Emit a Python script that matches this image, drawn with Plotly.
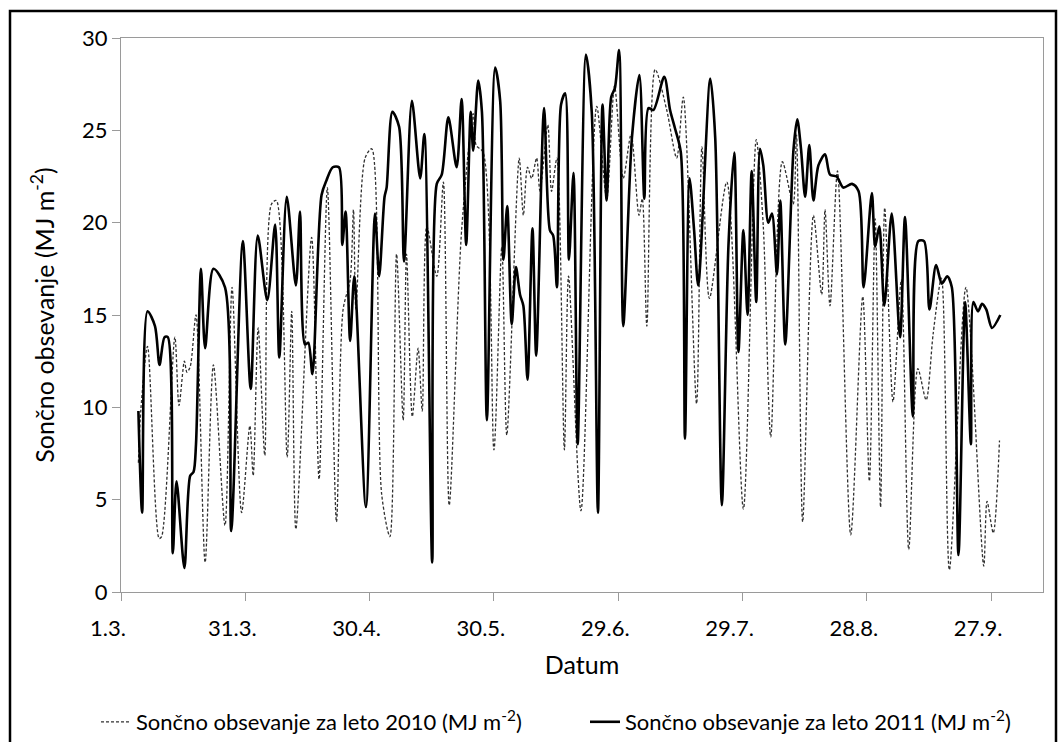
import plotly.graph_objects as go

# Day offsets from 1 March (0 = 1.3.) and daily solar irradiation values (MJ m-2)
days_2011 = [4.2, 5.1, 6.4, 8.2, 9.3, 10.5, 11.3, 12.5, 13.4, 15.3, 16.7, 17.5, 18.1, 19.3, 20.3,
             22.3, 25.1, 26.6, 29.4, 31.3, 33.0, 35.3, 37.2, 38.2, 40.0, 42.2, 43.2, 44.4, 45.2,
             46.2, 48.4, 49.6, 51.1, 52.6, 53.4, 54.2, 55.3, 56.3, 59.1, 61.3, 62.3, 63.6, 64.1,
             65.5, 67.1, 68.3, 70.2, 72.2, 73.2, 75.1, 76.2, 77.4, 79.0, 81.0, 82.2, 83.3, 84.4,
             85.0, 86.2, 87.1, 88.3, 90.3, 91.5, 92.3, 93.2, 94.3, 95.3, 96.3, 97.1, 98.1, 99.3,
             100.2, 102.1, 103.5, 104.3, 105.2, 106.2, 107.2, 108.1, 109.2, 110.2, 112.2, 113.6,
             115.1, 116.2, 117.2, 118.3, 119.2, 120.2, 121.2, 123.3, 125.1, 126.3, 127.3, 128.5,
             131.1, 132.5, 133.7, 135.1, 136.1, 137.2, 138.3, 139.3, 142.2, 143.4, 145.0, 146.6,
             148.0, 149.0, 150.2, 151.2, 152.2, 153.3, 154.2, 155.0, 156.2, 157.1, 158.3, 159.1,
             160.3, 162.3, 163.2, 164.1, 165.1, 166.1, 167.1, 168.3, 169.9, 171.1, 172.7, 174.3,
             176.4, 178.0, 179.2, 181.2, 182.0, 183.0, 184.2, 186.0, 188.0, 189.2, 191.1, 192.4,
             193.8, 195.1, 196.7, 198.1, 199.4, 200.5, 202.1, 203.7, 205.1, 205.7, 206.8, 207.8,
             208.8, 210.2, 212.2]
vals_2011 = [9.8, 4.3, 15.2, 14.4, 12.3, 13.8, 13.8, 2.1, 6.0, 1.3, 6.3, 6.5, 8.0, 17.5, 13.2,
             17.5, 16.5, 3.3, 19.0, 11.0, 19.3, 15.8, 19.9, 12.7, 21.4, 16.6, 20.6, 13.4, 13.5,
             11.8, 21.5, 22.3, 23.0, 23.0, 18.8, 20.6, 13.6, 17.1, 4.6, 20.5, 17.1, 21.4, 21.9,
             26.0, 25.2, 17.9, 26.6, 22.4, 24.8, 1.6, 22.1, 22.6, 25.7, 23.0, 26.7, 18.8, 26.0,
             23.9, 27.7, 26.0, 9.3, 28.4, 26.6, 18.0, 20.9, 14.5, 17.6, 16.1, 15.5, 11.5, 19.7,
             12.8, 26.2, 19.6, 19.3, 16.5, 26.4, 27.0, 18.0, 22.7, 8.0, 29.1, 26.0,
             4.3, 26.4, 21.2, 26.8, 27.3, 29.35, 14.4, 24.6, 28.0, 21.3, 26.2, 26.1,
             27.9, 26.1, 25.1, 23.8, 8.3, 22.4, 19.6, 16.6, 27.8, 24.6, 4.7, 18.8,
             23.8, 13.0, 19.6, 15.0, 22.8, 15.7, 24.0, 23.1, 20.0, 20.5, 17.2, 21.2,
             13.4, 24.0, 25.6, 24.0, 21.4, 24.2, 21.2, 23.1, 23.7, 22.6, 22.5, 21.9,
             22.1, 21.7, 16.5, 21.6, 18.7, 19.8, 15.5, 20.5, 13.8, 20.3, 9.5, 19.0,
             19.0, 15.3, 17.7, 16.7, 17.1, 16.5, 2.0, 15.7, 8.0, 15.7, 15.2, 15.6,
             15.3, 14.3, 15.0]

days_2010 = [4.2, 4.8, 6.4, 9.2, 9.8, 13.0, 14.0, 15.3, 15.9, 16.7, 18.1, 20.3, 22.3, 25.1,
             26.8, 29.1, 31.1, 31.9, 33.1, 34.7, 36.3, 37.5, 40.1, 41.2, 42.2, 46.0, 47.8,
             49.8, 52.0, 53.6, 55.3, 56.1, 56.7, 58.9, 60.5, 62.9, 64.9, 66.5, 68.1, 68.9,
             70.3, 71.7, 72.7, 73.8, 76.2, 77.8, 79.2, 82.2, 85.0, 85.7, 87.4, 90.0, 91.9,
             93.1, 96.1, 97.1, 98.1, 99.1, 100.3, 101.1, 103.0, 103.9, 105.2, 107.0, 108.0,
             111.0, 114.8, 117.2, 119.1, 121.2, 123.1, 125.0, 125.8, 126.9, 128.9, 131.7,
             134.1, 135.7, 138.9, 140.2, 142.0, 146.2, 150.2, 153.3, 155.0, 156.8, 159.6,
             162.2, 163.0, 164.5, 167.1, 169.1, 169.9, 171.1, 172.9, 176.1, 179.0, 180.6,
             182.0, 183.3, 184.3, 186.3, 188.3, 190.1, 192.3, 194.3, 196.0, 198.0, 199.9,
             203.9, 208.2, 209.0, 210.5, 212.0]
vals_2010 = [7.0, 9.9, 13.3, 2.9, 3.0, 13.8, 10.1, 12.5, 11.9, 12.2, 15.0, 1.6, 12.3, 3.6,
             16.5, 4.3, 9.0, 6.3, 14.3, 7.4, 21.0, 21.2, 7.3, 15.2, 3.4, 19.2, 6.1,
             21.9, 3.8, 15.3, 16.9, 20.7, 15.3, 23.5, 24.0, 5.3, 3.0, 18.3, 9.3, 18.3,
             9.5, 13.2, 9.8, 19.8, 17.1, 22.2, 4.7, 19.6, 25.9, 24.2, 23.8, 7.7, 18.7,
             8.5, 23.5, 20.4, 23.0, 22.4, 23.5, 21.7, 25.3, 21.7, 23.5, 7.7, 17.1,
             4.4, 26.3, 21.3, 27.4, 22.4, 24.8, 20.4, 21.3, 14.4, 28.3, 26.1,
             23.5, 26.8, 10.2, 24.1, 15.9, 22.2, 4.5, 24.5, 19.8, 8.4, 23.3,
             21.0, 24.8, 3.8, 20.4, 16.1, 20.7, 15.5, 22.8, 3.1, 16.0, 6.0,
             20.2, 4.6, 20.8, 10.3, 16.9, 2.3, 12.1, 10.4, 14.0, 17.0, 1.2,
             16.5, 1.4, 4.9, 3.2, 8.2, 5.0]

tick_days = [0, 30, 60, 90, 120, 150, 180, 210]
tick_labels = ["1.3.", "31.3.", "30.4.", "30.5.", "29.6.", "29.7.", "28.8.", "27.9."]

FONT = "Lato"

fig = go.Figure()
fig.add_trace(go.Scatter(
    x=days_2010, y=vals_2010, mode="lines",
    line=dict(color="#303030", width=1.3, dash="3px,2px", shape="spline", smoothing=0.8),
    name="Sončno obsevanje za leto 2010 (MJ m<sup>-2</sup>)", legend="legend"))
fig.add_trace(go.Scatter(
    x=days_2011, y=vals_2011, mode="lines",
    line=dict(color="black", width=2.6, shape="spline", smoothing=0.8),
    name="Sončno obsevanje za leto 2011 (MJ m<sup>-2</sup>)", legend="legend2"))

W, H = 1061, 742
L, R, T, B = 121, 18, 38, 150
pw, ph = W - L - R, H - T - B

def px(xp):
    return (xp - L) / pw

def py(yp):
    return (H - B - yp) / ph

fig.update_layout(
    width=W, height=H,
    margin=dict(l=L, r=R, t=T, b=B, autoexpand=False),
    paper_bgcolor="white", plot_bgcolor="white",
    font=dict(family=FONT, size=22, color="black"),
    xaxis=dict(range=[0, 222.5], tickvals=tick_days, ticktext=tick_labels,
               showgrid=False, zeroline=False, showline=True, linecolor="#9a9a9a",
               linewidth=1, mirror=True, ticks="outside", ticklen=8, tickcolor="#9a9a9a",
               ticklabelshift=-13, ticklabelstandoff=9, automargin=False,
               title=dict(text="Datum", font=dict(size=25), standoff=16),
               tickfont=dict(size=22)),
    yaxis=dict(range=[0, 30], dtick=5, showgrid=False, zeroline=False, showline=True,
               linecolor="#9a9a9a", linewidth=1, mirror=True, ticks="outside", ticklen=8,
               tickcolor="#9a9a9a", automargin=False,
               title=dict(text="Sončno obsevanje (MJ m<sup>-2</sup>)", font=dict(size=25),
                          standoff=20),
               tickfont=dict(size=22)),
    legend=dict(xref="container", yref="container", x=96 / W, y=(H - 722) / H,
                xanchor="left", yanchor="middle",
                orientation="h", font=dict(size=22), bgcolor="rgba(0,0,0,0)"),
    legend2=dict(xref="container", yref="container", x=585 / W, y=(H - 722) / H,
                 xanchor="left", yanchor="middle",
                 orientation="h", font=dict(size=22), bgcolor="rgba(0,0,0,0)"),
    showlegend=True,
)

# outer chart frame
fig.add_shape(type="rect", xref="paper", yref="paper",
              x0=px(10), x1=px(1056), y0=py(770), y1=py(11),
              line=dict(color="black", width=2.5), fillcolor="rgba(0,0,0,0)", layer="below")

fig.write_html("out.html")
